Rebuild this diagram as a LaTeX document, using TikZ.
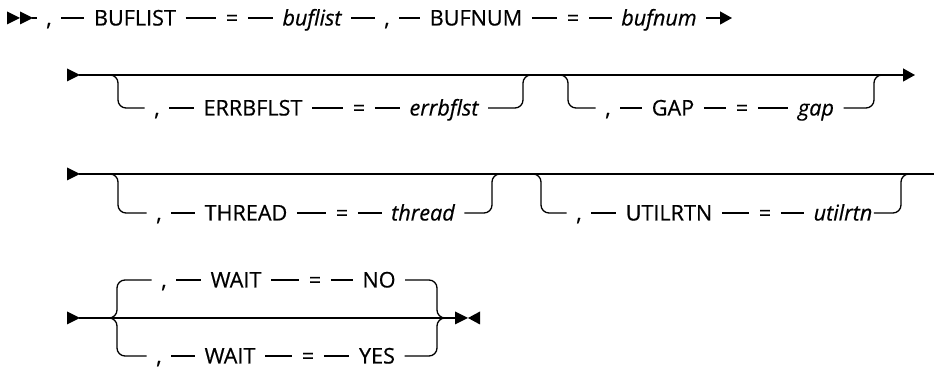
\documentclass[tikz,border=0pt]{standalone}
\usepackage{fontspec}
\setmainfont{Open Sans}[FakeBold=0.5]
\usetikzlibrary{arrows.meta}
\usetikzlibrary{calc}

\tikzset{
  tok/.style={inner xsep=4.5pt, inner ysep=0pt, text height=7.5pt, text depth=0pt,
    font=\fontsize{10.8}{12}\selectfont},
  var/.style={tok, font=\fontsize{10.8}{12}\selectfont\itshape},
  rail/.style={rounded corners=4pt},
  headR/.pic={\fill (-13,-6.5) -- (0,0) -- (-13,6.5) -- cycle;},
  headL/.pic={\fill (12,-6.5) -- (0,0) -- (12,6.5) -- cycle;},
}

\begin{document}
\begin{tikzpicture}[x=0.5pt,y=-0.5pt,line width=0.65pt,line cap=butt,>={Triangle[length=6pt,width=6.5pt]}]
        \useasboundingbox (0,0) rectangle (934,367);
        % row 1
        \pic at (20,18) {headR};
        \pic at (33,18) {headR};
        \coordinate (r1start) at (32,18);
        \node[tok] (comma1) at (49,18) {,};
        \node[tok] (kwBuflist) at (135,18) {BUFLIST};
        \node[tok] (eqA) at (232,18) {=};
        \node[var] (varBuflist) at (312,18) {buflist};
        \node[tok] (comma2) at (387,18) {,};
        \node[tok] (kwBufnum) at (476,18) {BUFNUM};
        \node[tok] (eqB) at (573,18) {=};
        \node[var] (varBufnum) at (659,18) {bufnum};
        \coordinate (r1end) at (732,18);
        \draw (r1start) -- (comma1) -- (kwBuflist) -- (eqA) -- (varBuflist) -- (comma2)
          -- (kwBufnum) -- (eqB) -- (varBufnum);
        \draw[->] (varBufnum) -- (r1end);
        % row 2
        \pic at (80,75) {headR};
        \coordinate (r2start) at (79,75);
        \coordinate (r2end) at (915,75);
        \draw[->] (r2start) -- (r2end);
        \coordinate (r2a) at (108,75);
        \node[tok] (comma3) at (157,108) {,};
        \node[tok] (kwErrbflst) at (253,108) {ERRBFLST};
        \node[tok] (eqC) at (359,108) {=};
        \node[var] (varErrbflst) at (444,108) {errbflst};
        \coordinate (r2b) at (532,75);
        \draw[rail] (r2a) -| ++(10,33) -- (comma3);
        \draw (comma3) -- (kwErrbflst) -- (eqC) -- (varErrbflst);
        \draw[rail] (varErrbflst) -| ([xshift=-4.5pt]r2b) -- (r2b);
        \coordinate (r2c) at (558,75);
        \node[tok] (comma4) at (608,108) {,};
        \node[tok] (kwGap) at (673,108) {GAP};
        \node[tok] (eqD) at (742,108) {=};
        \node[var] (varGap) at (816,108) {gap};
        \coordinate (r2d) at (883,75);
        \draw[rail] (r2c) -| ++(10,33) -- (comma4);
        \draw (comma4) -- (kwGap) -- (eqD) -- (varGap);
        \draw[rail] (varGap) -| ([xshift=-4.5pt]r2d) -- (r2d);
        % row 3
        \pic at (80,174) {headR};
        \coordinate (r3start) at (79,174);
        \coordinate (r3end) at (934,174);
        \draw (r3start) -- (r3end);
        \coordinate (r3a) at (108,174);
        \node[tok] (comma5) at (159,213) {,};
        \node[tok] (kwThread) at (246,213) {THREAD};
        \node[tok] (eqE) at (342,213) {=};
        \node[var] (varThread) at (423,213) {thread};
        \coordinate (r3b) at (501,174);
        \draw[rail] (r3a) -| ++(10,39) -- (comma5);
        \draw (comma5) -- (kwThread) -- (eqE) -- (varThread);
        \draw[rail] (varThread) -| ([xshift=-4.5pt]r3b) -- (r3b);
        \coordinate (r3c) at (531,174);
        \node[tok] (comma6) at (579,213) {,};
        \node[tok] (kwUtilrtn) at (669,213) {UTILRTN};
        \node[tok] (eqF) at (765,213) {=};
        \node[var] (varUtilrtn) at (843,213) {utilrtn};
        \coordinate (r3d) at (910,174);
        \draw[rail] (r3c) -| ++(10,39) -- (comma6);
        \draw (comma6) -- (kwUtilrtn) -- (eqF) -- (varUtilrtn);
        \draw[rail,shorten <=-4pt] (varUtilrtn) -| ([xshift=-4.5pt]r3d) -- (r3d);
        % row 4
        \pic at (80,318) {headR};
        \coordinate (r4start) at (79,318);
        \coordinate (r4end) at (460,318);
        \draw (r4start) -- (r4end);
        \pic at (468,318) {headR};
        \pic at (468,318) {headL};
        \coordinate (r4a) at (107,318);
        \node[tok] (comma7) at (164,280) {,};
        \node[tok] (kwWaitA) at (236,280) {WAIT};
        \node[tok] (eqG) at (315,280) {=};
        \node[tok] (kwNo) at (379,280) {NO};
        \node[tok] (comma8) at (159,356) {,};
        \node[tok] (kwWaitB) at (230,356) {WAIT};
        \node[tok] (eqH) at (308,356) {=};
        \node[tok] (kwYes) at (377,356) {YES};
        \coordinate (r4b) at (447,318);
        \draw[rail] (r4a) -| ++(10,-38) -- (comma7);
        \draw[rail] (r4a) -| ++(10,38) -- (comma8);
        \draw (comma7) -- (kwWaitA) -- (eqG) -- (kwNo);
        \draw (comma8) -- (kwWaitB) -- (eqH) -- (kwYes);
        \draw[rail] (kwNo) -| ([xshift=-5pt]r4b) -- (r4b);
        \draw[rail] (kwYes) -| ([xshift=-5pt]r4b) -- (r4b);
      \end{tikzpicture}
\end{document}
